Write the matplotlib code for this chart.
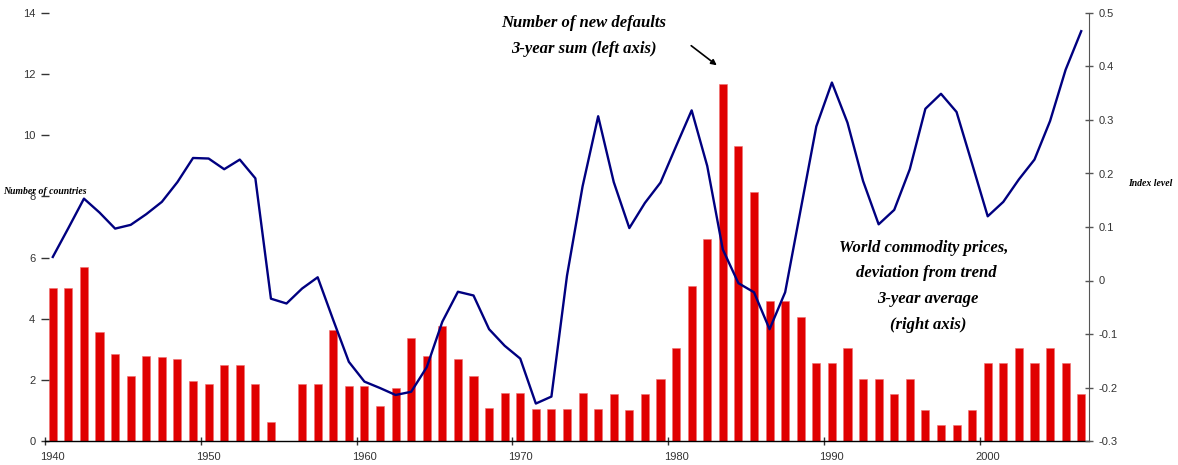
import numpy as np
import matplotlib
matplotlib.use('Agg')
import matplotlib.pyplot as plt

plt.rcParams['font.family'] = 'Liberation Sans'

# 연도 (카테고리)
years = np.arange(1940, 2007)

# 신규 디폴트 국가 수, 3년 합계 (좌측 축)
defaults = [
    5.00, 5.00, 5.70, 3.58, 2.85, 2.13, 2.78, 2.74, 2.69, 1.95,   # 1940-1949
    1.88, 2.50, 2.50, 1.86, 0.62, 0.00, 1.85, 1.85, 3.63, 1.81,   # 1950-1959
    1.81, 1.15, 1.72, 3.36, 2.77, 3.77, 2.67, 2.13, 1.08, 1.56,   # 1960-1969
    1.56, 1.05, 1.05, 1.05, 1.56, 1.05, 1.54, 1.01, 1.54, 2.04,   # 1970-1979
    3.05, 5.08, 6.61, 11.67, 9.65, 8.13, 4.57, 4.57, 4.07, 2.54,  # 1980-1989
    2.54, 3.05, 2.04, 2.04, 1.54, 2.04, 1.02, 0.51, 0.51, 1.02,   # 1990-1999
    2.54, 2.54, 3.05, 2.54, 3.05, 2.54, 1.54,                     # 2000-2006
]

# 세계 원자재 가격, 추세 대비 편차, 3년 평균 (우측 축)
commodity = [
    0.044, 0.098, 0.153, 0.127, 0.097, 0.104, 0.124, 0.147, 0.184, 0.229,      # 1940s
    0.228, 0.208, 0.226, 0.191, -0.034, -0.043, -0.015, 0.006, -0.074, -0.152, # 1950s
    -0.189, -0.201, -0.214, -0.208, -0.162, -0.077, -0.021, -0.028, -0.091, -0.122,  # 1960s
    -0.146, -0.230, -0.217, 0.009, 0.176, 0.307, 0.184, 0.098, 0.145, 0.183,   # 1970s
    0.251, 0.318, 0.214, 0.058, -0.005, -0.022, -0.091, -0.022, 0.133, 0.288,  # 1980s
    0.370, 0.295, 0.186, 0.105, 0.132, 0.208, 0.321, 0.349, 0.315, 0.218,      # 1990s
    0.120, 0.147, 0.189, 0.226, 0.298, 0.394, 0.466,                           # 2000s
]

decades = [1940, 1950, 1960, 1970, 1980, 1990, 2000]
left_ticks = [0, 2, 4, 6, 8, 10, 12, 14]
right_ticks = [-0.3, -0.2, -0.1, 0, 0.1, 0.2, 0.3, 0.4, 0.5]

W, H = 1178, 465
fig = plt.figure(figsize=(W / 100, H / 100), dpi=100)
ax = fig.add_axes([45 / W, 24 / H, (1089 - 45) / W, 428 / H])

ax.bar(years, defaults, width=0.52, color='#e00000', edgecolor='#f07070', linewidth=0.4)
ax.set_xlim(years[0] - 0.5, years[-1] + 0.5)
ax.set_ylim(0, 14)

ax2 = ax.twinx()
ax2.plot(years, commodity, color='#000080', linewidth=1.7)
ax2.set_ylim(-0.3, 0.5)

# 축 스타일
for sp in ['top', 'left', 'right']:
    ax.spines[sp].set_visible(False)
for sp in ['top', 'left', 'bottom']:
    ax2.spines[sp].set_visible(False)
ax.spines['bottom'].set_linewidth(1.0)
ax2.spines['right'].set_color('#555555')

tick_col = '#333333'
ax.set_yticks(left_ticks)
ax.set_yticklabels([str(t) for t in left_ticks])
ax.tick_params(axis='y', direction='inout', length=6, width=1.0, pad=4,
               labelsize=8, labelcolor=tick_col, color='#333333')

# x축: 눈금은 카테고리 경계, 라벨은 카테고리 중심
ax.set_xticks(decades)
ax.set_xticklabels([str(d) for d in decades])
ax.set_xticks([d - 0.5 for d in decades], minor=True)
ax.tick_params(axis='x', which='major', length=0, pad=8, labelsize=8, labelcolor=tick_col)
ax.tick_params(axis='x', which='minor', direction='inout', length=6, width=1.0, color='#333333')

ax2.set_yticks(right_ticks)
ax2.set_yticklabels(['0' if t == 0 else f'{t:g}' for t in right_ticks])
ax2.tick_params(axis='y', direction='inout', length=6, width=1.0, pad=4,
                labelsize=8, labelcolor=tick_col, color='#555555')

def px(x, y):
    return x / W, 1 - y / H

serif = dict(family='Liberation Serif', style='italic', weight='bold')

fig.text(*px(584, 23), 'Number of new defaults', ha='center', va='center', fontsize=12, **serif)
fig.text(*px(584, 49), '3-year sum (left axis)', ha='center', va='center', fontsize=12, **serif)

fig.text(*px(924, 248), 'World commodity prices,', ha='center', va='center', fontsize=12, **serif)
fig.text(*px(926, 273), 'deviation from trend', ha='center', va='center', fontsize=12, **serif)
fig.text(*px(928, 299), '3-year average', ha='center', va='center', fontsize=12, **serif)
fig.text(*px(928, 325), '(right axis)', ha='center', va='center', fontsize=12, **serif)

fig.text(*px(45, 191), 'Number of countries', ha='center', va='center', fontsize=7, **serif)
fig.text(*px(1150, 183), 'Index level', ha='center', va='center', fontsize=7, **serif)

ax.annotate('', xy=px(719, 67), xytext=px(689, 44), xycoords='figure fraction',
            textcoords='figure fraction',
            arrowprops=dict(arrowstyle='-|>', color='black', lw=1.2, mutation_scale=8))

fig.savefig('out.png', dpi=100)
